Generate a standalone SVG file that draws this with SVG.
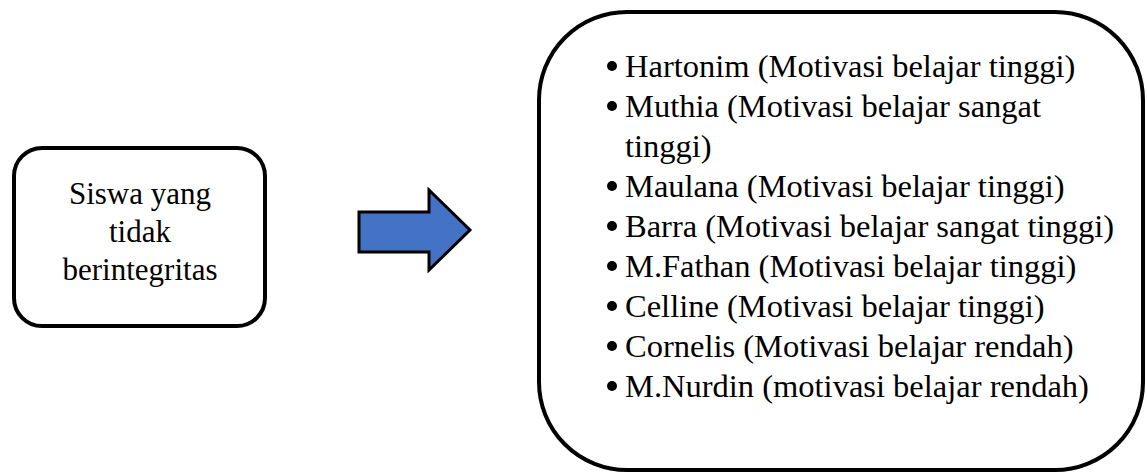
<svg xmlns="http://www.w3.org/2000/svg" width="1147" height="475" viewBox="0 0 1147 475">
<style>
.box{fill:#fff;stroke:#000;stroke-width:4}
.t{font-family:"Liberation Serif","Times New Roman",serif;font-size:31px;fill:#000}
.r{font-size:32.5px}
.c{text-anchor:middle}
.b{fill:#000}
</style>
<rect width="1147" height="475" fill="#fff"/>
<g id="node-left">
<rect class="box" x="14" y="148" width="251" height="178" rx="28"/>
<text class="t c" x="140" y="204">Siswa yang</text>
<text class="t c" x="140" y="242">tidak</text>
<text class="t c" x="140" y="280">berintegritas</text>
</g>
<g id="connectors">
<polygon points="359,212 429,212 429,190 470,230 429,270 429,252 359,252" fill="#4472C4" stroke="#000" stroke-width="3" stroke-linejoin="miter"/>
</g>
<g id="node-right">
<rect class="box" x="539" y="12" width="604" height="458" rx="88"/>
<g class="b">
<circle cx="612" cy="66" r="5"/>
<circle cx="612" cy="106" r="5"/>
<circle cx="612" cy="186" r="5"/>
<circle cx="612" cy="226" r="5"/>
<circle cx="612" cy="266" r="5"/>
<circle cx="612" cy="306" r="5"/>
<circle cx="612" cy="346" r="5"/>
<circle cx="612" cy="386" r="5"/>
</g>
<text class="t r" x="625" y="77">Hartonim (Motivasi belajar tinggi)</text>
<text class="t r" x="625" y="117">Muthia (Motivasi belajar sangat</text>
<text class="t r" x="625" y="157">tinggi)</text>
<text class="t r" x="625" y="197">Maulana (Motivasi belajar tinggi)</text>
<text class="t r" x="625" y="237">Barra (Motivasi belajar sangat tinggi)</text>
<text class="t r" x="625" y="277">M.Fathan (Motivasi belajar tinggi)</text>
<text class="t r" x="625" y="317">Celline (Motivasi belajar tinggi)</text>
<text class="t r" x="625" y="357">Cornelis (Motivasi belajar rendah)</text>
<text class="t r" x="625" y="397">M.Nurdin (motivasi belajar rendah)</text>
</g>
</svg>
